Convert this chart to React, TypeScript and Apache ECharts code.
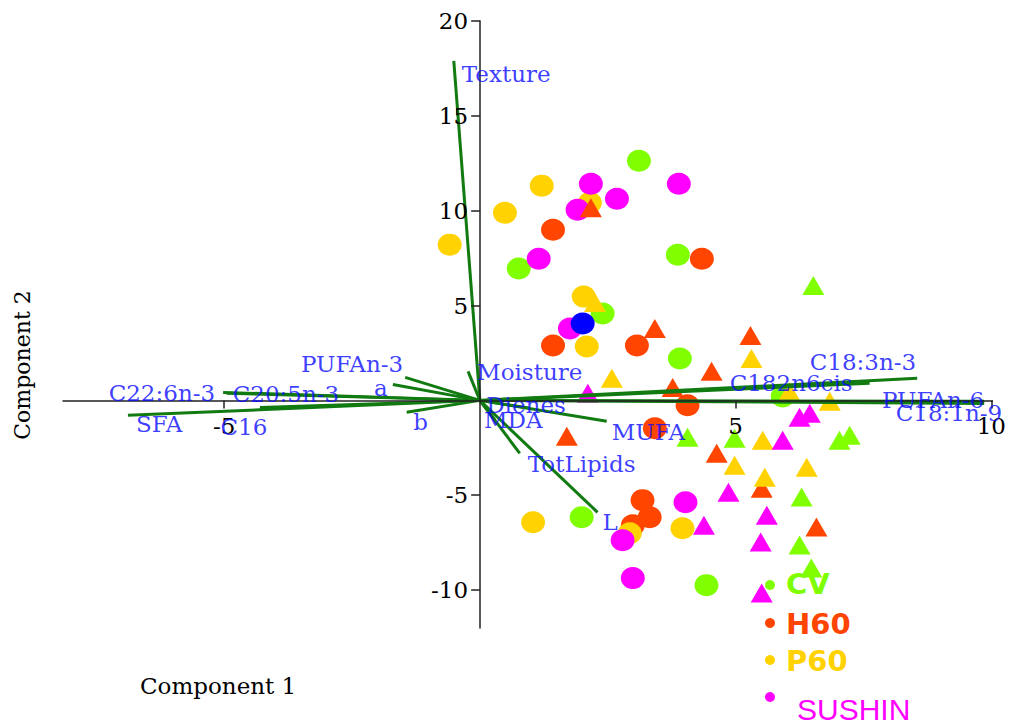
import React, { useEffect, useRef } from 'react';
import * as echarts from 'echarts';

// ---- Data ----
const xTickValues = [-5, 5, 10];
const yTickValues = [-10, -5, 5, 10, 15, 20];
const xRange = [-8.15, 10.02];
const yRange = [-12, 20];

const groupNames = ['CV', 'H60', 'P60', 'SUSHIN'];

const cvCircles = [[3.11, 12.63], [0.76, 6.95], [3.87, 7.68], [2.40, 4.58], [3.91, 2.21], [5.92, 0.21], [1.99, -6.16], [4.43, -9.74]];
const cvTriangles = [[6.52, 6.05], [4.06, -1.95], [4.98, -2.0], [7.03, -2.1], [7.23, -1.84], [6.29, -5.1], [6.25, -7.63], [6.48, -8.84]];

const h60Circles = [[1.43, 9.0], [4.34, 7.47], [1.43, 2.89], [3.07, 2.89], [4.06, -0.26], [3.42, -1.47], [3.18, -5.26], [3.32, -6.16], [2.99, -6.58]];
const h60Triangles = [[2.17, 10.16], [3.42, 3.79], [5.29, 3.42], [4.53, 1.53], [3.77, 0.68], [1.70, -1.89], [4.63, -2.79], [5.51, -4.63], [6.58, -6.68]];

const p60Circles = [[-0.59, 8.21], [0.49, 9.89], [1.21, 11.32], [2.15, 10.42], [2.03, 5.47], [2.09, 2.84], [1.04, -6.42], [2.93, -7.0], [3.96, -6.74]];
const p60Triangles = [[2.25, 5.16], [2.58, 1.16], [5.31, 2.21], [6.05, 0.47], [6.84, -0.05], [5.53, -2.1], [4.98, -3.42], [5.57, -4.05], [6.39, -3.53]];

const sushinCircles = [[1.15, 7.47], [1.91, 10.05], [2.17, 11.42], [2.68, 10.63], [3.89, 11.42], [1.76, 3.79], [4.02, -5.37], [2.79, -7.37], [2.99, -9.37]];
const sushinTriangles = [[2.11, 0.37], [6.25, -0.89], [6.45, -0.68], [5.92, -2.1], [4.86, -4.84], [5.61, -6.05], [4.38, -6.58], [5.49, -7.47], [5.51, -10.16]];

const extraBluePoint = [[2.01, 4.05]];

const vectorNames = ['Texture', 'Moisture', 'Dienes', 'MDA', 'MUFA', 'TotLipids', 'L', 'C182n6cis', 'C18:3n-3', 'PUFAn-6', 'C18:1n-9', 'PUFAn-3', 'a', 'C22:6n-3', 'C20:5n-3', 'SFA', 'C16', 'b'];
const vectorX = [-0.51, -0.23, 0.98, 0.30, 2.48, 0.78, 2.30, 7.62, 8.55, 9.86, 9.86, -1.46, -1.70, -5.02, -4.95, -6.88, -4.30, -1.43];
const vectorY = [17.9, 1.53, -0.42, -1.05, -1.10, -2.79, -5.90, 0.90, 1.16, -0.05, -0.16, 1.21, 0.84, 0.42, 0.38, -0.79, -0.37, -0.63];

// ---- Styles / layout ----
const W = 1009;
const H = 726;
const GRID = { left: 63, right: 16, top: 21, bottom: 98 };
const groupColors: Record<string, string> = { CV: '#80ff00', H60: '#ff4500', P60: '#ffd200', SUSHIN: '#ff00ff' };
const serif = 'DejaVu Serif';
const labelBlue = '#0a0aff';
const vectorGreen = '#117a11';

// label placement relative to the vector end: [dx, dy, align]
const labelPlacement: Record<string, [number, number, string]> = {
  Texture: [8, 13, 'left'],
  Moisture: [9, 1, 'left'],
  Dienes: [-4, -3, 'center'],
  MDA: [18, 0, 'center'],
  MUFA: [5, 11, 'left'],
  TotLipids: [8, 11, 'left'],
  L: [5, 10, 'left'],
  C182n6cis: [-17, 0, 'right'],
  'C18:3n-3': [-1, -16, 'right'],
  'PUFAn-6': [0, -1, 'right'],
  'C18:1n-9': [18, 10, 'right'],
  'PUFAn-3': [-2, -13, 'right'],
  a: [-12, 4, 'center'],
  'C22:6n-3': [-8, 1, 'right'],
  'C20:5n-3': [6, 1, 'left'],
  SFA: [8, 9, 'left'],
  C16: [-16, 20, 'center'],
  b: [14, 10, 'center'],
};

function pointSeries(name: string, data: number[][], symbol: string, color: string) {
  return {
    type: 'scatter',
    name,
    data,
    symbol,
    symbolSize: symbol === 'circle' ? [24, 22] : [22, 19],
    itemStyle: { color, opacity: 1 },
    z: 2,
    silent: true,
  };
}

export default function App() {
  const ref = useRef<HTMLDivElement>(null);

  useEffect(() => {
    document.body.style.margin = '0';
    const chart = echarts.init(ref.current!, null, { renderer: 'svg' });

    // where the zero lines fall inside the grid: used to shift each axis onto the other's zero
    const gw = W - GRID.left - GRID.right;
    const gh = H - GRID.top - GRID.bottom;
    const zeroX = GRID.left + ((0 - xRange[0]) / (xRange[1] - xRange[0])) * gw;
    const zeroY = GRID.top + ((yRange[1] - 0) / (yRange[1] - yRange[0])) * gh;
    const xAxisOffset = -(GRID.top + gh - zeroY);
    const yAxisOffset = -(zeroX - GRID.left);

    const series: any[] = [
      pointSeries('CV', cvCircles, 'circle', groupColors.CV),
      pointSeries('H60', h60Circles, 'circle', groupColors.H60),
      pointSeries('P60', p60Circles, 'circle', groupColors.P60),
      pointSeries('SUSHIN', sushinCircles, 'circle', groupColors.SUSHIN),
      pointSeries('CV', cvTriangles, 'triangle', groupColors.CV),
      pointSeries('H60', h60Triangles, 'triangle', groupColors.H60),
      pointSeries('P60', p60Triangles, 'triangle', groupColors.P60),
      pointSeries('SUSHIN', sushinTriangles, 'triangle', groupColors.SUSHIN),
      pointSeries('other', extraBluePoint, 'circle', '#0000ff'),
      {
        type: 'lines',
        coordinateSystem: 'cartesian2d',
        data: vectorNames.map((n, i) => ({ name: n, coords: [[0, 0], [vectorX[i], vectorY[i]]] })),
        lineStyle: { color: vectorGreen, width: 3, opacity: 1, curveness: 0 },
        z: 3,
        silent: true,
      },
      {
        type: 'scatter',
        name: 'loadings',
        symbolSize: 1,
        itemStyle: { color: 'rgba(0,0,0,0)' },
        z: 4,
        silent: true,
        data: vectorNames.map((n, i) => {
          const p = labelPlacement[n];
          return {
            name: n,
            value: [vectorX[i], vectorY[i]],
            label: { offset: [p[0], p[1]], align: p[2] },
          };
        }),
        label: {
          show: true,
          position: 'inside',
          formatter: '{b}',
          color: labelBlue,
          fontFamily: serif,
          fontSize: 23,
          verticalAlign: 'middle',
        },
      },
    ];

    const legendY = [585, 623, 660, 697];
    const legendTextY = [584, 624, 661, 709];
    const legendGraphics: any[] = [];
    groupNames.forEach((g, i) => {
      legendGraphics.push({
        type: 'circle',
        shape: { cx: 770, cy: legendY[i], r: 5 },
        style: { fill: groupColors[g] },
        z: 10,
      });
      legendGraphics.push({
        type: 'text',
        x: g === 'SUSHIN' ? 797 : 786,
        y: legendTextY[i],
        style: {
          text: g,
          fill: groupColors[g],
          font: g === 'SUSHIN' ? '30px "Liberation Sans"' : 'bold 29px "DejaVu Sans"',
          textAlign: 'left',
          textVerticalAlign: 'middle',
        },
        z: 10,
      });
    });

    const option: any = {
      animation: false,
      backgroundColor: '#ffffff',
      grid: { ...GRID, containLabel: false },
      xAxis: {
        type: 'value',
        position: 'bottom',
        offset: xAxisOffset,
        min: xRange[0],
        max: xRange[1],
        z: 3,
        splitLine: { show: false },
        axisLine: { show: true, onZero: false, lineStyle: { color: '#222', width: 1.5 } },
        axisTick: { show: true, customValues: xTickValues, length: 8, lineStyle: { color: '#222', width: 1.5 } },
        axisLabel: { customValues: xTickValues, fontFamily: serif, fontSize: 23, color: '#000', margin: 14 },
      },
      yAxis: {
        type: 'value',
        position: 'left',
        offset: yAxisOffset,
        min: yRange[0],
        max: yRange[1],
        z: 3,
        splitLine: { show: false },
        axisLine: { show: true, onZero: false, lineStyle: { color: '#222', width: 1.5 } },
        axisTick: { show: true, customValues: yTickValues, length: 9, lineStyle: { color: '#222', width: 1.5 } },
        axisLabel: { customValues: yTickValues, fontFamily: serif, fontSize: 23, color: '#000', margin: 12 },
      },
      series,
      graphic: [
        {
          type: 'text',
          x: 140,
          y: 686,
          style: { text: 'Component 1', font: '23px "DejaVu Serif"', fill: '#000', textAlign: 'left', textVerticalAlign: 'middle' },
        },
        {
          type: 'text',
          x: 22,
          y: 365,
          rotation: Math.PI / 2,
          style: { text: 'Component 2', font: '22px "DejaVu Serif"', fill: '#000', textAlign: 'center', textVerticalAlign: 'middle' },
        },
        ...legendGraphics,
      ],
    };

    chart.setOption(option);
    return () => chart.dispose();
  }, []);

  return <div ref={ref} style={{ width: W, height: H }} />;
}
